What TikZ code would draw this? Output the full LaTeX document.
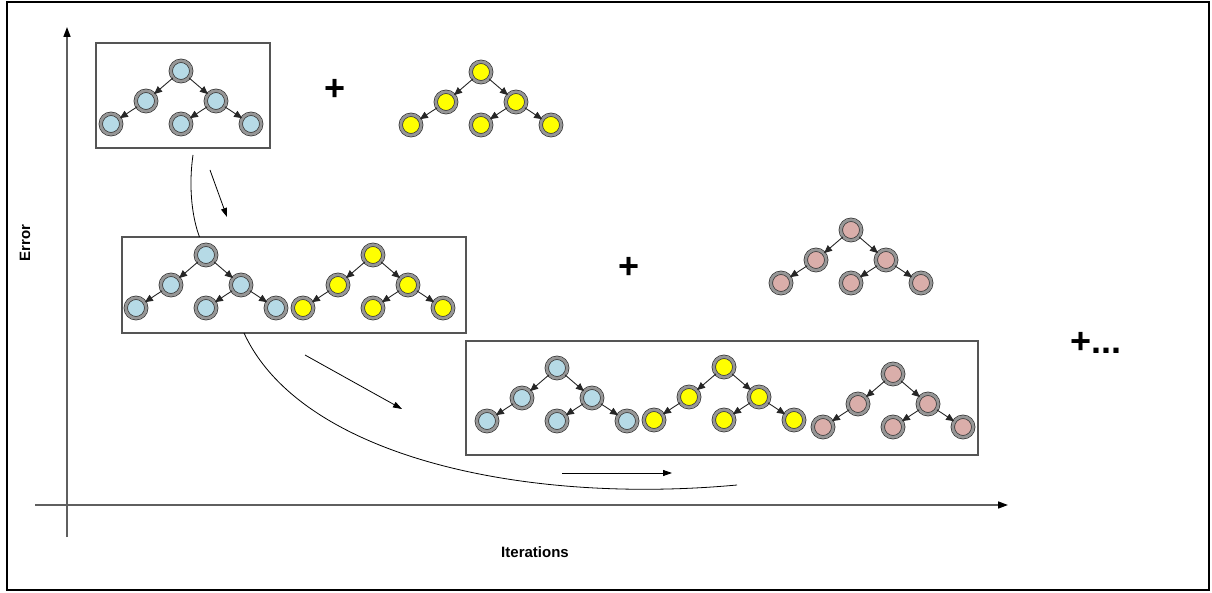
\documentclass[tikz,border=0pt]{standalone}
\usepackage{fontspec}
\setmainfont{Liberation Sans}
\usetikzlibrary{arrows.meta}

\definecolor{nodeblue}{RGB}{182,218,230}
\definecolor{nodeyellow}{RGB}{255,255,0}
\definecolor{nodepink}{RGB}{218,174,170}
\definecolor{ringgray}{RGB}{150,150,150}
\definecolor{boxgray}{RGB}{85,85,85}
\definecolor{axisgray}{RGB}{95,95,95}

\tikzset{
  tn/.style={circle, minimum size=20.5pt, inner sep=0pt, draw=black!80,
    line width=0.7pt, double=ringgray, double distance=2.8pt},
  treeedge/.style={-{Triangle[length=8pt,width=7pt]}, line width=0.9pt, black!85},
  box/.style={draw=boxgray, line width=1.3pt, inner sep=0pt},
  axis/.style={axisgray, line width=1.6pt, -{Triangle[length=10pt,width=7pt,color=black]}},
  flow/.style={black, line width=0.8pt, -{Triangle[length=9pt,width=6pt]}},
  trend/.style={black, line width=0.8pt},
  plus/.style={font=\bfseries\fontsize{36}{36}\selectfont, inner sep=0pt},
  label/.style={font=\bfseries\fontsize{15}{15}\selectfont, inner sep=0pt}
}

% one tree: root, two inner nodes, three leaves
\newcommand\drawtree[4]{%
  \node[tn, fill=#4] (#1r) at (#2,#3) {};
  \node[tn, fill=#4] (#1a) at (#2-35,#3+30) {};
  \node[tn, fill=#4] (#1b) at (#2+35,#3+30) {};
  \node[tn, fill=#4] (#1aa) at (#2-70,#3+53) {};
  \node[tn, fill=#4] (#1ba) at (#2,#3+53) {};
  \node[tn, fill=#4] (#1bb) at (#2+70,#3+53) {};
  \draw[treeedge] (#1r) -- (#1a);
  \draw[treeedge] (#1r) -- (#1b);
  \draw[treeedge] (#1a) -- (#1aa);
  \draw[treeedge] (#1b) -- (#1ba);
  \draw[treeedge] (#1b) -- (#1bb);
}

\begin{document}
\begin{tikzpicture}[x=1pt, y=-1pt]
  \useasboundingbox (0,0) rectangle (1212,593);
  \fill[white] (0,0) rectangle (1212,593);
  \draw[black, line width=2pt] (7,2) rectangle (1209,590);

  % axes
  \coordinate (ybot) at (67,537);
  \coordinate (ytop) at (67,27);
  \coordinate (xleft) at (35,505);
  \coordinate (xright) at (1008,505);
  \draw[axis] (ybot) -- (ytop);
  \draw[axis] (xleft) -- (xright);
  \node[label, rotate=90] (err) at (25,243) {Error};
  \node[label] (iter) at (535,552) {Iterations};

  % ensemble boxes
  \node[box, minimum width=174pt, minimum height=105pt] (box1) at (183,95.5) {};
  \node[box, minimum width=344pt, minimum height=96pt] (box2) at (294,285) {};
  \node[box, minimum width=512pt, minimum height=114pt] (box3) at (722,398) {};

  % first stage
  \drawtree{ta}{181}{71}{nodeblue}
  \drawtree{tb}{481}{72}{nodeyellow}
  \node[plus] (p1) at (335,90) {+};

  % second stage
  \drawtree{tc}{206}{255}{nodeblue}
  \drawtree{td}{373}{255}{nodeyellow}
  \drawtree{te}{851}{230}{nodepink}
  \node[plus] (p2) at (629,268) {+};

  % third stage
  \drawtree{tf}{557}{368}{nodeblue}
  \drawtree{tg}{724}{367}{nodeyellow}
  \drawtree{th}{893}{374}{nodepink}
  \node[plus, anchor=west] (p3) at (1070,343) {+...};

  % error trend and progress arrows
  \coordinate (c1s) at (193,155);
  \coordinate (c1e) at (199.5,237);
  \draw[trend] (c1s) .. controls (188,190) and (193,220) .. (c1e);
  \coordinate (c2s) at (244,333);
  \coordinate (c2e) at (737,485);
  \draw[trend] (c2s) .. controls (300,455) and (520,505) .. (c2e);

  \coordinate (a1s) at (210,170);
  \coordinate (a1e) at (227,217);
  \draw[flow] (a1s) -- (a1e);
  \coordinate (a2s) at (305,355);
  \coordinate (a2e) at (402,409);
  \draw[flow] (a2s) -- (a2e);
  \coordinate (a3s) at (562,473);
  \coordinate (a3e) at (672,473);
  \draw[flow] (a3s) -- (a3e);
\end{tikzpicture}
\end{document}
